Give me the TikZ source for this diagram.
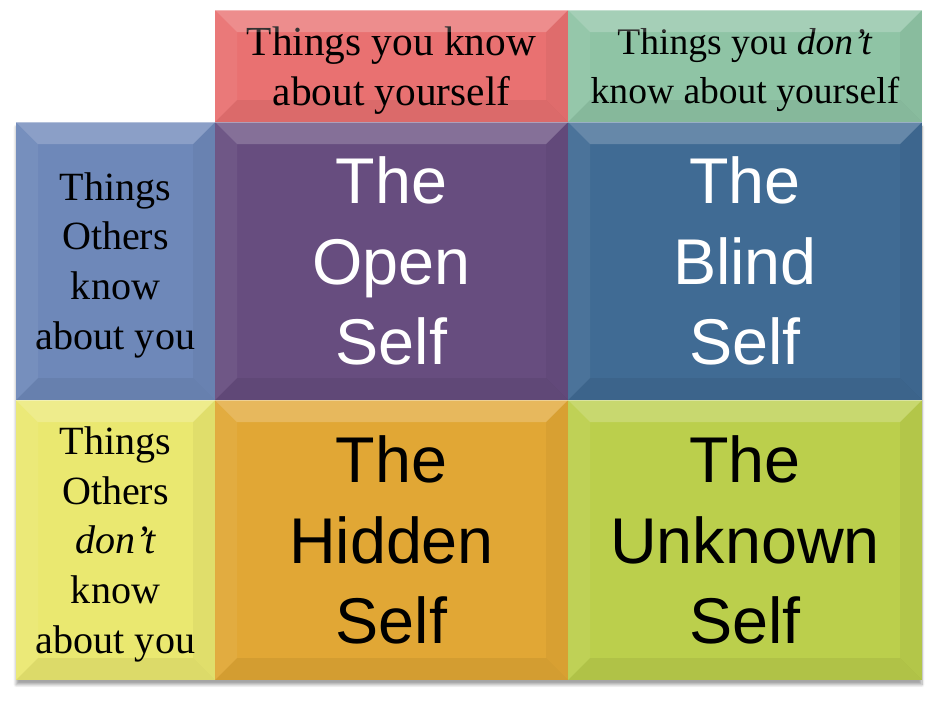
\documentclass[tikz,border=0pt]{standalone}
\usepackage{fontspec}
\setmainfont{Liberation Serif}
\newfontfamily\arialfont{Liberation Sans}
\usetikzlibrary{positioning}
\usetikzlibrary{calc}
\usetikzlibrary{shadows.blur}

\definecolor{hdrred}{HTML}{E97171}
\definecolor{hdrgreen}{HTML}{8FC4A5}
\definecolor{sideblue}{HTML}{6E88B9}
\definecolor{sideyellow}{HTML}{EAE870}
\definecolor{openpurple}{HTML}{674D7F}
\definecolor{blindblue}{HTML}{406B94}
\definecolor{hiddenorange}{HTML}{E1A735}
\definecolor{unknowngreen}{HTML}{BBCF4C}

% bevel on the four edges of a cell
\newcommand{\bevelcell}[1]{%
  \fill[white, opacity=.2] (#1.north west) -- (#1.north east)
    -- ($(#1.north east)+(-.55,-.55)$) -- ($(#1.north west)+(.55,-.55)$) -- cycle;
  \fill[white, opacity=.06] (#1.north west) -- ($(#1.north west)+(.55,-.55)$)
    -- ($(#1.south west)+(.55,.55)$) -- (#1.south west) -- cycle;
  \fill[black, opacity=.04] (#1.north east) -- ($(#1.north east)+(-.55,-.55)$)
    -- ($(#1.south east)+(-.55,.55)$) -- (#1.south east) -- cycle;
  \fill[black, opacity=.06] (#1.south west) -- ($(#1.south west)+(.55,.55)$)
    -- ($(#1.south east)+(-.55,.55)$) -- (#1.south east) -- cycle;
  \draw[white, opacity=.35, line width=.6pt] (#1.north west) -- (#1.north east);
}

\begin{document}
\begin{tikzpicture}[
    node distance = 0pt,
    cell/.style = {rectangle, draw=none, outer sep=0pt, inner sep=2pt, align=center},
    hdr/.style = {cell, font=\fontsize{29.4}{35.5}\selectfont, text depth=0pt,
      minimum height=2.8cm},
    side/.style = {cell, font=\fontsize{28.5}{35.5}\selectfont, text depth=0pt,
      minimum width=4.975cm},
    big/.style = {cell, font=\arialfont\fontsize{46}{57}\selectfont}
  ]
  \useasboundingbox (0,0) rectangle (23.325,-17.55);
  % soft shadow under the grid
  \path[blur shadow={shadow xshift=0pt, shadow yshift=-.12cm, shadow blur steps=10, shadow opacity=35}]
    (0.4,-3.05) rectangle (23.05,-17.0);

  \node (otherskn) [side, fill=sideblue, minimum height=6.95cm, anchor=north west]
    at (0.4,-3.05) {Things\\Others\\know\\about you};
  \node (othersdont) [side, fill=sideyellow, minimum height=7cm, below=of otherskn]
    {Things\\Others\\\textit{don’t}\\know\\about you};
  \node (openself) [big, fill=openpurple, text=white, minimum width=8.825cm,
    minimum height=6.95cm, right=of otherskn] {The\\Open\\Self};
  \node (blindself) [big, fill=blindblue, text=white, minimum width=8.85cm,
    minimum height=6.95cm, right=of openself] {The\\Blind\\Self};
  \node (hiddenself) [big, fill=hiddenorange, minimum width=8.825cm,
    minimum height=7cm, below=of openself] {The\\Hidden\\Self};
  \node (unknownself) [big, fill=unknowngreen, minimum width=8.85cm,
    minimum height=7cm, below=of blindself] {The\\Unknown\\Self};
  \node (knowhdr) [hdr, fill=hdrred, minimum width=8.825cm, above=of openself]
    {Things you know\\about yourself};
  \node (dontknowhdr) [hdr, fill=hdrgreen, font=\fontsize{26.7}{35.5}\selectfont,
    minimum width=8.85cm, above=of blindself]
    {Things you \textit{don’t}\\know about yourself};

  \foreach \c in {otherskn, othersdont, openself, blindself,
                  hiddenself, unknownself, knowhdr, dontknowhdr}
    {\bevelcell{\c}}
\end{tikzpicture}
\end{document}
